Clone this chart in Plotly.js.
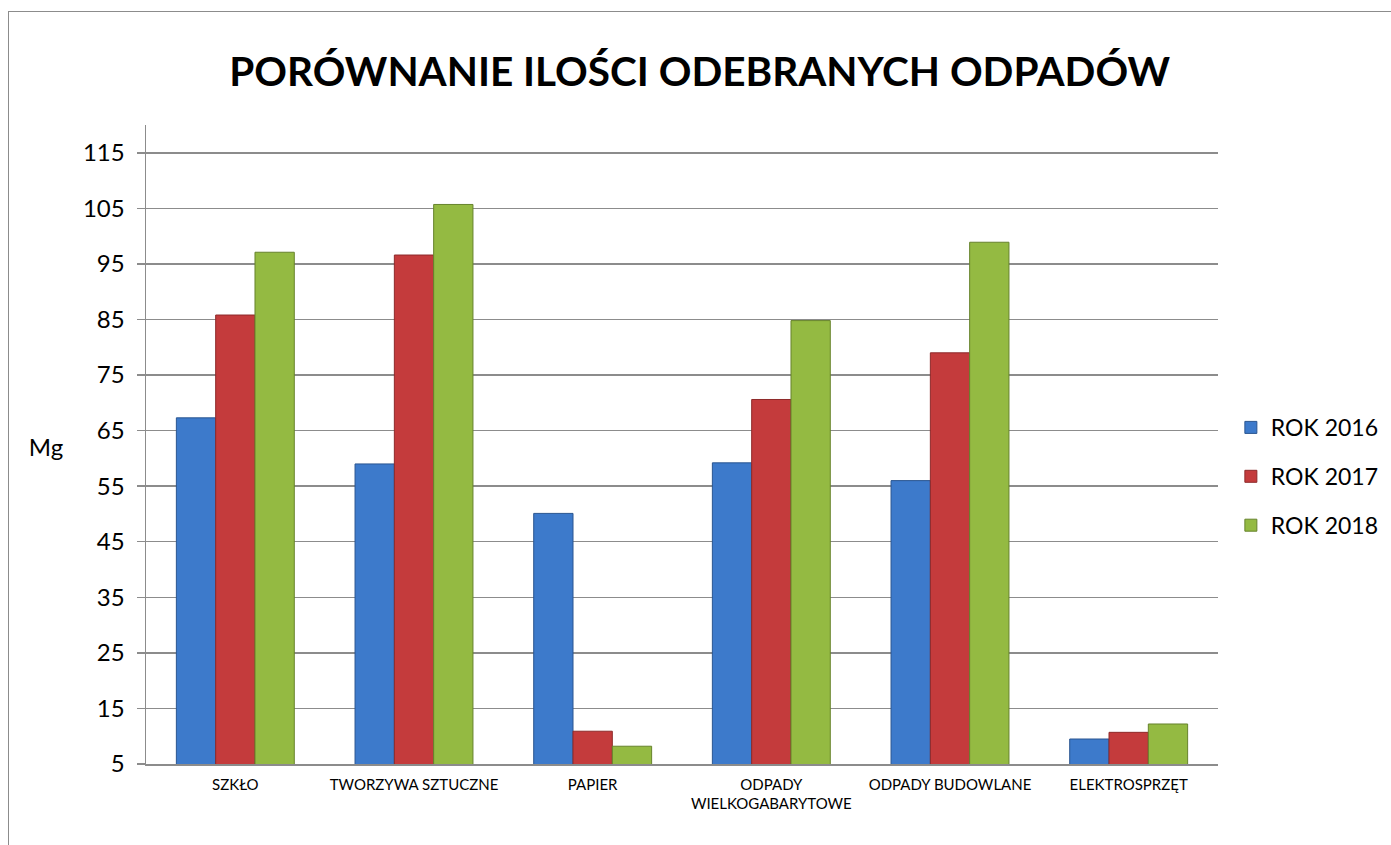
<!DOCTYPE html>
<html>
<head>
<meta charset="utf-8">
<script src="https://cdn.plot.ly/plotly-3.0.1.min.js"></script>
<style>
  html, body { margin: 0; padding: 0; background: #fff; overflow: hidden; }
  #chart { width: 1391px; height: 845px; }
  #frame { position: absolute; left: 8px; top: 11px; width: 1500px; height: 1000px;
           border-left: 1.5px solid #8c8c8c; border-top: 1.5px solid #8c8c8c; pointer-events: none; }
</style>
</head>
<body>
<div id="chart"></div>
<div id="frame"></div>
<script>
const categories = ["SZKŁO", "TWORZYWA SZTUCZNE", "PAPIER", "ODPADY<br>WIELKOGABARYTOWE", "ODPADY BUDOWLANE", "ELEKTROSPRZĘT"];
const seriesNames = ["ROK 2016", "ROK 2017", "ROK 2018"];
const rok2016 = [67.3, 59.0, 50.1, 59.2, 56.0, 9.5];
const rok2017 = [85.8, 96.6, 10.9, 70.6, 79.0, 10.7];
const rok2018 = [97.1, 105.7, 8.2, 84.8, 98.9, 12.2];
const yTicks = [5, 15, 25, 35, 45, 55, 65, 75, 85, 95, 105, 115];

const fills = ["#3d7acb", "#c43b3c", "#94ba42"];
const edges = ["#2a5590", "#8e2a2a", "#66832c"];
const values = [rok2016, rok2017, rok2018];

const traces = values.map((v, i) => ({
  type: "bar",
  name: seriesNames[i],
  x: categories,
  y: v,
  legendgroup: "g" + i,
  marker: { color: fills[i], line: { color: edges[i], width: 1 } },
  hoverinfo: "x+y+name"
}));

const layout = {
  width: 1391, height: 845,
  margin: { l: 146, r: 173, t: 125, b: 81, autoexpand: false },
  paper_bgcolor: "#fff", plot_bgcolor: "#fff",
  barmode: "group",
  bargap: 0.34, bargroupgap: 0,
  title: {
    text: "PORÓWNANIE ILOŚCI ODEBRANYCH ODPADÓW",
    font: { family: "Lato, 'Open Sans', sans-serif", size: 40.5, color: "#000", weight: "bold" },
    x: 0.503, xanchor: "center", y: 0.915, yanchor: "middle"
  },
  font: { family: "Lato, 'Open Sans', sans-serif", color: "#000" },
  xaxis: {
    type: "category",
    showline: true, linecolor: "#8c8c8c", linewidth: 1.5,
    ticks: "", tickfont: { size: 15 },
    ticklabelstandoff: 6,
    showgrid: false, zeroline: false,
    fixedrange: true
  },
  yaxis: {
    range: [5, 120],
    tickvals: yTicks, ticktext: yTicks.map(String),
    showline: true, linecolor: "#8c8c8c", linewidth: 1.5,
    ticks: "outside", ticklen: 8, tickcolor: "#8c8c8c", tickwidth: 1.5,
    ticklabelstandoff: 7,
    tickfont: { size: 24 },
    showgrid: true, gridcolor: "#8c8c8c", gridwidth: 1.5,
    zeroline: false,
    title: { text: "Mg", font: { size: 24 }, standoff: 0 },
    fixedrange: true
  },
  legend: {
    x: 1.012, xanchor: "left", y: 0.45, yanchor: "middle",
    font: { size: 23 },
    tracegroupgap: 16,
    itemwidth: 30
  },
  showlegend: true
};

Plotly.newPlot("chart", traces, layout, { displayModeBar: false, staticPlot: true }).then(() => {
  // place the y-axis title horizontally as in the reference
  const t = document.querySelector(".ytitle");
  if (t) {
    t.setAttribute("transform", "");
    t.setAttribute("x", 46);
    t.setAttribute("y", 456);
    t.setAttribute("text-anchor", "middle");
  }
});
</script>
</body>
</html>
